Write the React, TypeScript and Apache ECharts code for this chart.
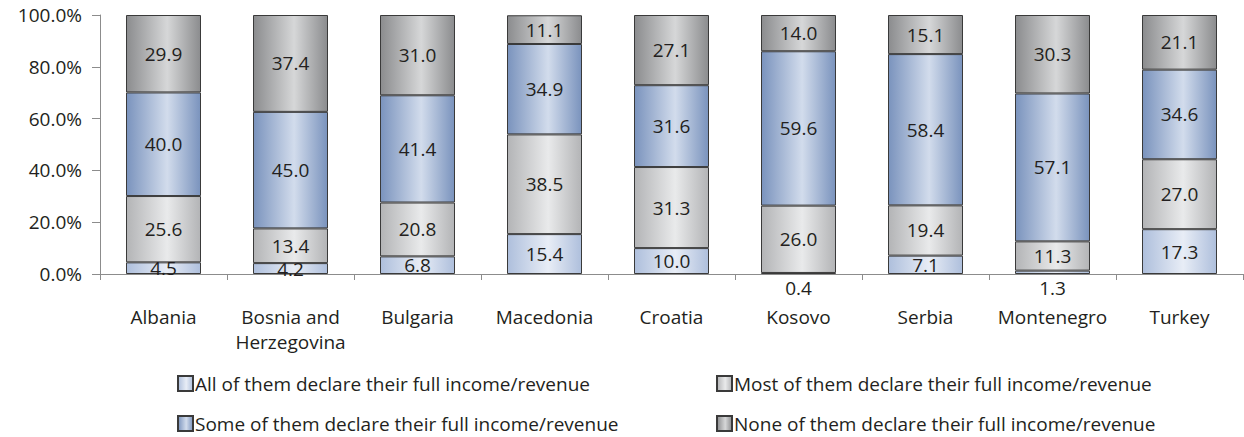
import React, { useEffect, useRef } from "react";
import * as echarts from "echarts";

const categories = [
  "Albania",
  "Bosnia and\nHerzegovina",
  "Bulgaria",
  "Macedonia",
  "Croatia",
  "Kosovo",
  "Serbia",
  "Montenegro",
  "Turkey",
];
const allDeclare = [4.5, 4.2, 6.8, 15.4, 10.0, 0.4, 7.1, 1.3, 17.3];
const mostDeclare = [25.6, 13.4, 20.8, 38.5, 31.3, 26.0, 19.4, 11.3, 27.0];
const someDeclare = [40.0, 45.0, 41.4, 34.9, 31.6, 59.6, 58.4, 57.1, 34.6];
const noneDeclare = [29.9, 37.4, 31.0, 11.1, 27.1, 14.0, 15.1, 30.3, 21.1];
const seriesNames = [
  "All of them declare their full income/revenue",
  "Most of them declare their full income/revenue",
  "Some of them declare their full income/revenue",
  "None of them declare their full income/revenue",
];
const yTicks = [0, 20, 40, 60, 80, 100];

const FONT = "'Open Sans', sans-serif";
const TXT = "#231f20";
const FS = 19;

function grad(edge: string, center: string) {
  return new echarts.graphic.LinearGradient(0, 0, 1, 0, [
    { offset: 0, color: edge },
    { offset: 0.55, color: center },
    { offset: 1, color: edge },
  ]);
}

const palette = [
  grad("#aebfdc", "#e8edf6"),
  grad("#b3b4b6", "#e9eaeb"),
  grad("#7a93bd", "#d2dcec"),
  grad("#8b8c8e", "#d6d7d8"),
];

export default function App() {
  const ref = useRef<HTMLDivElement>(null);
  useEffect(() => {
    document.body.style.margin = "0";
    if (!ref.current) return;
    const chart = echarts.init(ref.current, undefined, { renderer: "svg" });
    const datasets = [allDeclare, mostDeclare, someDeclare, noneDeclare];
    const series = datasets.map((arr, si) => ({
      name: seriesNames[si],
      type: "bar",
      stack: "total",
      barWidth: 75,
      itemStyle: {
        color: palette[si],
        borderColor: "#3a3a3a",
        borderWidth: 1,
      },
      label: {
        show: true,
        position: "inside",
        fontFamily: FONT,
        fontSize: FS,
        lineHeight: 15,
        color: TXT,
        formatter: (p: any) => Number(p.value).toFixed(1),
      },
      data: arr.map((v) =>
        v < 2
          ? { value: v, label: { position: "bottom", distance: 6 } }
          : { value: v }
      ),
    }));
    const legendPos = [
      { left: 177, top: 374 },
      { left: 716, top: 374 },
      { left: 177, top: 414 },
      { left: 716, top: 414 },
    ];
    chart.setOption({
      animation: false,
      grid: { left: 100, right: 1, top: 15, bottom: 163, containLabel: false },
      legend: seriesNames.map((n, i) => ({
        data: [n],
        left: legendPos[i].left,
        top: legendPos[i].top,
        padding: 0,
        itemWidth: 15,
        itemHeight: 15,
        icon: "rect",
        selectedMode: false,
        textStyle: {
          fontFamily: FONT,
          fontSize: FS,
          color: TXT,
          padding: [0, 0, 0, -3],
        },
      })),
      xAxis: {
        type: "category",
        data: categories,
        axisLine: { lineStyle: { color: "#8c8c8c", width: 1 } },
        axisTick: { show: true, length: 6, lineStyle: { color: "#8c8c8c" } },
        axisLabel: {
          fontFamily: FONT,
          fontSize: FS,
          color: TXT,
          margin: 30,
          lineHeight: 25,
          interval: 0,
        },
      },
      yAxis: {
        type: "value",
        min: 0,
        max: 100,
        interval: 20,
        splitLine: { show: false },
        axisLine: { show: true, lineStyle: { color: "#8c8c8c", width: 1 } },
        axisTick: { show: true, length: 8, lineStyle: { color: "#8c8c8c" } },
        axisLabel: {
          fontFamily: FONT,
          fontSize: FS,
          color: TXT,
          margin: 18,
          formatter: (v: number) =>
            yTicks.includes(v) ? v.toFixed(1) + "%" : "",
        },
      },
      series,
    });
    return () => chart.dispose();
  }, []);
  return <div ref={ref} style={{ width: 1244, height: 437 }} />;
}
